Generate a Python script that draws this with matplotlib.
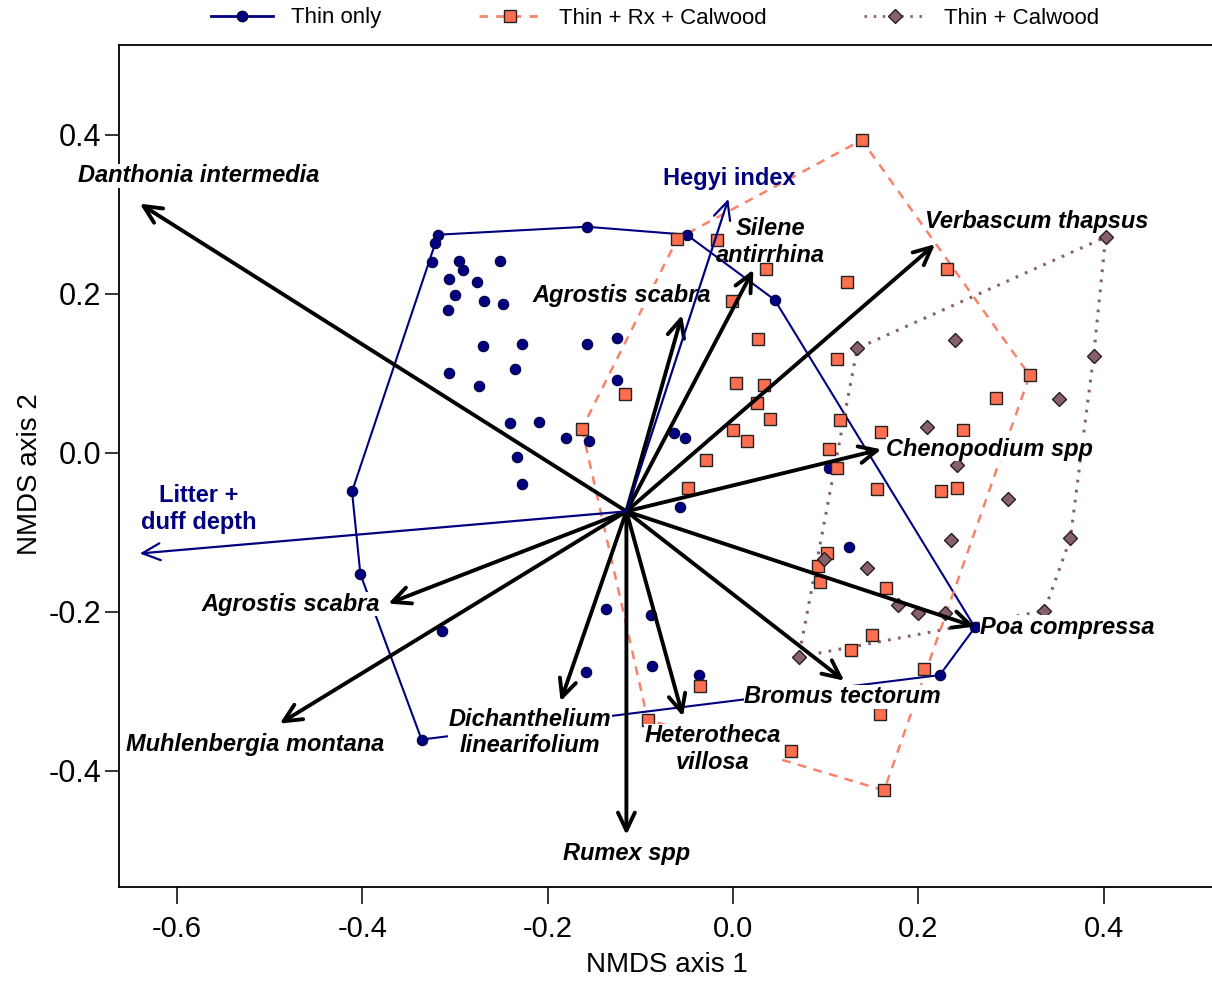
import matplotlib
matplotlib.use('Agg')
import matplotlib.pyplot as plt
from matplotlib.lines import Line2D
import numpy as np

plt.rcParams['font.family'] = ['Liberation Sans', 'DejaVu Sans']
plt.rcParams['axes.unicode_minus'] = False

# site scores, NMDS axis 1 / axis 2
thin_x = [-0.318, -0.321, -0.158, -0.050, -0.325, -0.296, -0.291, -0.251, -0.306, -0.276,
          -0.300, -0.269, -0.248, -0.307, -0.270, -0.228, -0.158, -0.125, -0.306, -0.235,
          -0.274, -0.125, -0.241, -0.209, -0.180, -0.155, -0.233, -0.228, -0.064, -0.052,
          -0.057, -0.137, -0.089, -0.159, -0.087, -0.037, -0.402, -0.314, -0.336, -0.411,
          0.104, 0.125, 0.223, 0.261, 0.045]
thin_y = [0.274, 0.264, 0.284, 0.274, 0.240, 0.241, 0.229, 0.241, 0.218, 0.214,
          0.198, 0.191, 0.187, 0.179, 0.134, 0.136, 0.136, 0.144, 0.100, 0.105,
          0.084, 0.091, 0.037, 0.039, 0.018, 0.015, -0.006, -0.040, 0.024, 0.018,
          -0.068, -0.197, -0.204, -0.276, -0.269, -0.280, -0.153, -0.225, -0.361, -0.049,
          -0.020, -0.119, -0.280, -0.220, 0.192]

rx_x = [0.139, -0.060, -0.017, 0.036, 0.123, 0.231, -0.001, 0.027, 0.112, 0.320,
        0.003, 0.033, 0.284, 0.026, 0.040, 0.115, 0.000, 0.015, 0.160, 0.248,
        0.104, -0.029, -0.117, -0.163, -0.049, -0.036, 0.112, 0.155, 0.224, 0.242,
        0.101, 0.092, 0.094, 0.165, 0.150, 0.127, 0.206, -0.092, 0.159, 0.063, 0.163]
rx_y = [0.393, 0.269, 0.267, 0.231, 0.214, 0.231, 0.190, 0.143, 0.118, 0.097,
        0.088, 0.085, 0.069, 0.062, 0.042, 0.041, 0.028, 0.014, 0.026, 0.028,
        0.004, -0.010, 0.074, 0.030, -0.045, -0.294, -0.019, -0.046, -0.048, -0.044,
        -0.127, -0.143, -0.163, -0.171, -0.230, -0.248, -0.272, -0.336, -0.329, -0.376, -0.425]

cal_x = [0.134, 0.239, 0.209, 0.242, 0.402, 0.389, 0.352, 0.297, 0.364, 0.235,
         0.098, 0.145, 0.178, 0.200, 0.229, 0.336, 0.071]
cal_y = [0.131, 0.141, 0.032, -0.016, 0.271, 0.121, 0.067, -0.059, -0.108, -0.110,
         -0.134, -0.145, -0.192, -0.202, -0.202, -0.199, -0.257]

# fitted vectors
origin = (-0.115, -0.074)
species = ['Danthonia intermedia', 'Agrostis scabra', 'Silene\nantirrhina', 'Verbascum thapsus',
           'Chenopodium spp', 'Poa compressa', 'Bromus tectorum', 'Heterotheca\nvillosa',
           'Rumex spp', 'Dichanthelium\nlinearifolium', 'Agrostis scabra', 'Muhlenbergia montana']
sp_x = [-0.640, -0.055, 0.022, 0.218, 0.160, 0.261, 0.120, -0.054, -0.115, -0.186, -0.372, -0.489]
sp_y = [0.313, 0.173, 0.230, 0.262, 0.004, -0.219, -0.287, -0.332, -0.481, -0.313, -0.190, -0.341]
sp_lab_x = [-0.576, -0.120, 0.040, 0.328, 0.277, 0.361, 0.118, -0.022, -0.115, -0.219, -0.477, -0.516]
sp_lab_y = [0.348, 0.197, 0.265, 0.290, 0.004, -0.2195, -0.3075, -0.373, -0.504, -0.352, -0.191, -0.367]

env = ['Hegyi index', 'Litter +\nduff depth']
env_x = [-0.005, -0.640]
env_y = [0.319, -0.127]
env_lab_x = [-0.004, -0.576]
env_lab_y = [0.345, -0.071]

navy = '#000080'
salmon = '#FF6F4F'
salmon_line = '#F7836B'
brown = '#86606A'


def hull(x, y):
    pts = sorted(set(zip(x, y)))

    def cross(o, a, b):
        return (a[0] - o[0]) * (b[1] - o[1]) - (a[1] - o[1]) * (b[0] - o[0])
    lower, upper = [], []
    for p in pts:
        while len(lower) >= 2 and cross(lower[-2], lower[-1], p) <= 0:
            lower.pop()
        lower.append(p)
    for p in reversed(pts):
        while len(upper) >= 2 and cross(upper[-2], upper[-1], p) <= 0:
            upper.pop()
        upper.append(p)
    h = lower[:-1] + upper[:-1]
    h.append(h[0])
    return np.array(h)


fig = plt.figure(figsize=(12.12, 9.81), dpi=100)
ax = fig.add_axes([119 / 1212, 94 / 981, 1105 / 1212, 842 / 981])
ax.set_xlim(-0.6624, 0.5297)
ax.set_ylim(-0.5465, 0.5126)

h = hull(thin_x, thin_y)
ax.plot(h[:, 0], h[:, 1], color=navy, lw=1.5, zorder=2)
h = hull(rx_x, rx_y)
ax.plot(h[:, 0], h[:, 1], color=salmon_line, lw=1.8, ls=(0, (3.5, 3)), zorder=2)
h = hull(cal_x, cal_y)
ax.plot(h[:, 0], h[:, 1], color=brown, lw=2.2, ls=(0, (0.9, 2.4)), zorder=2)

ax.plot(thin_x, thin_y, 'o', ms=7.5, mfc=navy, mec='#000040', mew=0.8, zorder=3)
ax.plot(rx_x, rx_y, 's', ms=8.5, mfc=salmon, mec='#222222', mew=1.0, zorder=3)
ax.plot(cal_x, cal_y, 'D', ms=7.5, mfc=brown, mec='#2a1e20', mew=1.0, zorder=3)

bb = dict(facecolor='white', edgecolor='none', pad=0.3)
no_box = ('Silene', 'Verbascum')
for name, tx, ty, lx, ly in zip(species, sp_x, sp_y, sp_lab_x, sp_lab_y):
    ax.annotate('', xy=(tx, ty), xytext=origin,
                arrowprops=dict(arrowstyle='->,head_length=0.8,head_width=0.38',
                                lw=2.8, color='black', mutation_scale=16,
                                shrinkA=0, shrinkB=0), zorder=5)
    ax.text(lx, ly, name, ha='center', va='center', multialignment='center',
            fontsize=17, fontweight='bold', fontstyle='italic', color='black',
            bbox=None if name.startswith(no_box) else bb, zorder=4, clip_on=False)

for name, tx, ty, lx, ly in zip(env, env_x, env_y, env_lab_x, env_lab_y):
    ax.annotate('', xy=(tx, ty), xytext=origin,
                arrowprops=dict(arrowstyle='->,head_length=0.8,head_width=0.38',
                                lw=1.6, color=navy, mutation_scale=16,
                                shrinkA=0, shrinkB=0), zorder=5)
    ax.text(lx, ly, name, ha='center', va='center', multialignment='center',
            fontsize=17, fontweight='bold', color=navy, zorder=4)

ax.set_xticks([-0.6, -0.4, -0.2, 0.0, 0.2, 0.4])
ax.set_xticklabels(['-0.6', '-0.4', '-0.2', '0.0', '0.2', '0.4'])
ax.set_yticks([-0.4, -0.2, 0.0, 0.2, 0.4])
ax.set_yticklabels(['-0.4', '-0.2', '0.0', '0.2', '0.4'])
ax.tick_params(axis='x', labelsize=21, length=12, width=1.1, pad=8)
ax.tick_params(axis='y', labelsize=22, length=10, width=1.1, pad=3)
for s in ax.spines.values():
    s.set_linewidth(1.3)
ax.set_xlabel('NMDS axis 1', fontsize=20)
ax.set_ylabel('NMDS axis 2', fontsize=20)
ax.xaxis.set_label_coords(0.496, -0.077)
ax.yaxis.set_label_coords(-0.069, 0.49)

handles = [
    Line2D([], [], color=navy, lw=2, marker='o', ms=7.5, mfc=navy, mec='#000040'),
    Line2D([], [], color=salmon_line, lw=2, ls=(0, (3, 3)), marker='s', ms=8.5, mfc=salmon, mec='#222222'),
    Line2D([], [], color=brown, lw=2, ls=(0, (0.9, 2.4)), marker='D', ms=7.5, mfc=brown, mec='#2a1e20'),
]
fig.legend(handles, ['Thin only', 'Thin + Rx + Calwood', 'Thin + Calwood'],
           loc='center', bbox_to_anchor=(655 / 1212, 1 - 18 / 981), ncol=3, frameon=False,
           fontsize=16, handlelength=2.8, handletextpad=0.8, columnspacing=4.4)

fig.savefig('out.png', dpi=100)
